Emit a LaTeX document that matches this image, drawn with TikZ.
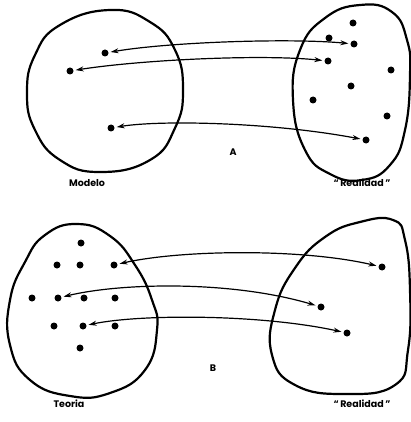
\documentclass[tikz,border=0pt]{standalone}
\usepackage{fontspec}
\setmainfont{Poppins}
\usetikzlibrary{arrows.meta}
\begin{document}
\begin{tikzpicture}[x=1pt,y=-1pt,
  dot/.style={circle,fill=black,inner sep=0pt,minimum size=7pt},
  blob/.style={line width=2.2pt},
  link/.style={line width=1.2pt,{Stealth[length=8pt,width=5pt]}-{Stealth[length=8pt,width=5pt]},shorten <=2pt,shorten >=2pt},
  lbl/.style={font=\bfseries\fontsize{9.5}{11}\selectfont}]
\path[use as bounding box] (0,0) rectangle (410,422);
% ---------- Panel A ----------
\draw[blob] plot[smooth cycle, tension=0.8] coordinates {(110,10) (150,22) (175,50) (183,90) (175,128) (150,160) (100,172) (60,160) (35,130) (27,93) (35,55) (60,25)};
\draw[blob] plot[smooth cycle, tension=0.8] coordinates {(360,5) (392,12) (407,40) (410,75) (405,130) (390,165) (362,180) (330,174) (305,150) (293,100) (300,50) (325,18)};
\node[dot] (m1) at (105,53) {};
\node[dot] (m2) at (70,71) {};
\node[dot] (m3) at (111,128) {};
\node[dot] (ra1) at (353,23) {};
\node[dot] (ra2) at (329,38) {};
\node[dot] (ra3) at (354,44) {};
\node[dot] (ra4) at (328,61) {};
\node[dot] (ra5) at (391,70) {};
\node[dot] (ra6) at (351,86) {};
\node[dot] (ra7) at (313,100) {};
\node[dot] (ra8) at (387,116) {};
\node[dot] (ra9) at (366,140) {};
\draw[link] (m1) .. controls (170,42) and (290,38) .. (ra3);
\draw[link] (m2) .. controls (140,60) and (260,54) .. (ra4);
\draw[link] (m3) .. controls (160,120) and (270,122) .. (ra9);
\node[lbl] (labA) at (233,152) {A};
\node[lbl] (modelo) at (87,183) {Modelo};
\node[lbl] (realA) at (362,183) {“\,Realidad\,”};
% ---------- Panel B ----------
\draw[blob] plot[smooth cycle, tension=0.8] coordinates {(77,224) (110,236) (135,265) (152,300) (157,330) (145,370) (110,393) (70,396) (30,380) (10,345) (10,300) (25,262) (45,235)};
\draw[blob] plot[smooth cycle, tension=0.8] coordinates {(393,220) (405,240) (410,290) (408,350) (395,385) (345,394) (295,385) (272,355) (275,310) (295,268) (325,237) (360,222)};
\node[dot] (t1) at (81,243) {};
\node[dot] (t2) at (57,265) {};
\node[dot] (t3) at (80,265) {};
\node[dot] (t4) at (114,265) {};
\node[dot] (t5) at (32,298) {};
\node[dot] (t6) at (58,298) {};
\node[dot] (t7) at (84,298) {};
\node[dot] (t8) at (115,298) {};
\node[dot] (t9) at (54,326) {};
\node[dot] (t10) at (83,326) {};
\node[dot] (t11) at (115,326) {};
\node[dot] (t12) at (80,348) {};
\node[dot] (rb1) at (382,267) {};
\node[dot] (rb2) at (321,307) {};
\node[dot] (rb3) at (347,333) {};
\draw[link] (t4) .. controls (180,250) and (300,248) .. (rb1);
\draw[link] (t6) .. controls (120,283) and (230,280) .. (rb2);
\draw[link] (t10) .. controls (140,314) and (260,314) .. (rb3);
\node[lbl] (labB) at (213,368) {B};
\node[lbl] (teoria) at (69,404) {Teoria};
\node[lbl] (realB) at (362,404) {“\,Realidad\,”};
\end{tikzpicture}
\end{document}
